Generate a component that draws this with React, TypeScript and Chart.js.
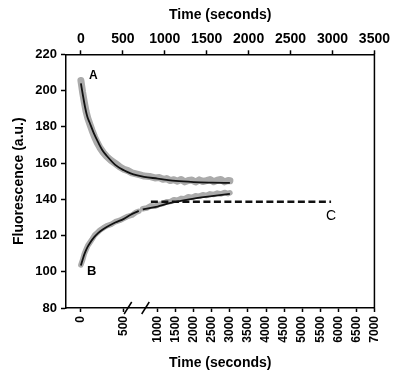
import React, { useEffect, useRef } from 'react';
import { Chart, registerables, LinearScale } from 'chart.js';

Chart.register(...registerables);

const FONT = '"Liberation Sans", Arial, Helvetica, sans-serif';

// ---- tick labels ----
const TOP_TICKS = [0, 500, 1000, 1500, 2000, 2500, 3000, 3500];
const BOTTOM_TICKS = [0, 500, 1000, 1500, 2000, 2500, 3000, 3500, 4000, 4500, 5000, 5500, 6000, 6500, 7000];
const Y_TICKS = [80, 100, 120, 140, 160, 180, 200, 220];

// ---- curve A: fitted line (time s, fluorescence) ----
const A_FIT_T = [0, 25, 50, 75, 100, 150, 200, 250, 300, 400, 500, 600, 700, 800, 1000, 1250, 1500, 2000, 2500, 3000];
const A_FIT_V = [204, 197, 190.5, 185.5, 182.5, 176.5, 171.5, 167, 164, 159, 156, 154.3, 153.2, 152.4, 151.4, 150.7, 150.1, 149.5, 149.2, 149];

// ---- curve A: measured (grey) ----
const A_MEAS_T = [0, 20, 40, 60, 80, 100, 130, 160, 190, 220, 260, 300, 350, 400, 450, 500, 560, 620, 680, 740, 800, 880, 960, 1050, 1150, 1250, 1350, 1450, 1550, 1650, 1750, 1850, 1950, 2050, 2150, 2250, 2350, 2450, 2550, 2650, 2750, 2850, 2950, 3000];
const A_MEAS_V = [205.5, 199, 193.5, 188.5, 184.8, 182.0, 178.0, 174.3, 171.2, 168.6, 165.8, 163.6, 161.5, 159.8, 158.0, 156.6, 155.8, 154.6, 154.0, 153.4, 152.8, 152.6, 151.8, 152.0, 151.0, 151.4, 150.3, 150.8, 150.0, 150.9, 149.6, 150.4, 150.6, 149.5, 150.7, 149.8, 150.3, 150.9, 149.7, 150.5, 150.9, 149.6, 150.4, 150.2];

// ---- curve B: fitted line ----
const B_FIT_T = [0, 25, 50, 75, 100, 150, 200, 250, 300, 400, 500, 600, 700, 720, 735, 780, 800, 1000, 1250, 1500, 2000, 2500, 3000];
const B_FIT_V = [103.5, 107.5, 110.8, 113.5, 115.5, 118.8, 121.3, 123.2, 124.7, 127.2, 129.2, 131.5, 133.2, 133.6, null, 134.4, 134.6, 136.0, 137.4, 138.5, 140.3, 141.7, 143.0];

// ---- curve B: measured (grey) ----
const B_MEAS_T = [0, 20, 40, 60, 80, 100, 130, 160, 190, 220, 260, 300, 350, 400, 450, 500, 560, 620, 680, 720, 735, 780, 840, 900, 960, 1050, 1150, 1250, 1350, 1450, 1550, 1650, 1750, 1850, 1950, 2050, 2150, 2250, 2350, 2450, 2550, 2650, 2750, 2850, 2950, 3000];
const B_MEAS_V = [103.8, 106.5, 109.9, 112.2, 114.4, 115.8, 117.9, 120.2, 121.5, 122.9, 124.2, 125.3, 126.1, 127.6, 128.3, 129.5, 130.6, 131.2, 132.8, 133.4, null, 134.8, 135.2, 136.4, 136.1, 137.3, 137.6, 138.6, 138.7, 139.8, 139.5, 140.5, 140.3, 141.4, 141.0, 142.0, 141.6, 142.5, 142.1, 143.0, 142.6, 143.4, 142.9, 143.8, 143.1, 143.6];

// ---- line C: dashed plateau ----
const C_T = [900, 5800];
const C_V = [138.7, 138.7];

// ---- curve labels (data coordinates) ----
const LABEL_TEXT = ['A', 'B', 'C'];
const LABEL_T = [144, 127, 5800];
const LABEL_V = [208.3, 100, 130.8];

// broken bottom axis: value breakpoints and their position along the axis (fraction of width)
const BREAK_VALUES = [0, 500, 1000, 7000];
const BREAK_FRACS = [0.0483, 0.1876, 0.2971, 1];

function valueToFrac(v: number): number {
  const n = BREAK_VALUES.length;
  let i = 0;
  if (v >= BREAK_VALUES[n - 1]) i = n - 2;
  else if (v > BREAK_VALUES[0]) {
    while (v > BREAK_VALUES[i + 1]) i++;
  }
  const v0 = BREAK_VALUES[i], v1 = BREAK_VALUES[i + 1];
  const f0 = BREAK_FRACS[i], f1 = BREAK_FRACS[i + 1];
  return f0 + ((v - v0) / (v1 - v0)) * (f1 - f0);
}
function fracToValue(f: number): number {
  const n = BREAK_FRACS.length;
  let i = 0;
  if (f >= BREAK_FRACS[n - 1]) i = n - 2;
  else if (f > BREAK_FRACS[0]) {
    while (f > BREAK_FRACS[i + 1]) i++;
  }
  const v0 = BREAK_VALUES[i], v1 = BREAK_VALUES[i + 1];
  const f0 = BREAK_FRACS[i], f1 = BREAK_FRACS[i + 1];
  return v0 + ((f - f0) / (f1 - f0)) * (v1 - v0);
}

class BrokenLinearScale extends LinearScale {
  static id = 'brokenLinear';
  static defaults = LinearScale.defaults;
  getPixelForValue(value: any) {
    if (value === null || value === undefined || isNaN(value)) return NaN;
    return (this as any).getPixelForDecimal(valueToFrac(+value));
  }
  getValueForPixel(pixel: number) {
    return fracToValue((this as any).getDecimalForPixel(pixel));
  }
}
Chart.register(BrokenLinearScale as any);

const pts = (t: number[], v: (number | null)[]) => t.map((x, i) => ({ x, y: v[i] }));

const decorPlugin = {
  id: 'decor',
  afterDraw(chart: any) {
    const { ctx, chartArea, scales } = chart;
    ctx.save();
    ctx.strokeStyle = '#000';
    ctx.lineWidth = 1.5;
    // right frame
    ctx.beginPath();
    ctx.moveTo(chartArea.right, chartArea.top - 0.75);
    ctx.lineTo(chartArea.right, chartArea.bottom + 0.75);
    ctx.stroke();
    // axis break marks
    const xs = scales.x;
    const p0 = xs.getPixelForValue(500);
    const p1 = xs.getPixelForValue(1000);
    const yb = chartArea.bottom;
    for (const f of [0.12, 0.64]) {
      const cx = p0 + (p1 - p0) * f;
      ctx.beginPath();
      ctx.moveTo(cx - 3.8, yb + 6);
      ctx.lineTo(cx + 3.8, yb - 6);
      ctx.stroke();
    }
    // curve labels
    ctx.fillStyle = '#000';
    ctx.textAlign = 'center';
    ctx.textBaseline = 'middle';
    LABEL_TEXT.forEach((txt, i) => {
      const px = xs.getPixelForValue(LABEL_T[i]);
      const py = scales.y.getPixelForValue(LABEL_V[i]);
      ctx.font = txt === 'C' ? `14px ${FONT}` : `bold ${txt === 'A' ? 12 : 13}px ${FONT}`;
      ctx.fillText(txt, px, py);
    });
    ctx.restore();
  },
};

export default function App() {
  const ref = useRef<HTMLCanvasElement>(null);
  useEffect(() => {
    if (!ref.current) return;
    const grid = {
      display: true,
      drawOnChartArea: false,
      drawTicks: true,
      tickLength: 4,
      tickWidth: 1.5,
      tickColor: '#000',
      color: '#000',
    };
    const border = { display: true, color: '#000', width: 1.5 };
    const titleFont = { family: FONT, size: 14, weight: 'bold' as const };
    const chart = new Chart(ref.current, {
      type: 'line',
      data: {
        datasets: [
          {
            data: pts(A_FIT_T, A_FIT_V),
            borderColor: '#111',
            borderWidth: 1.8,
            pointRadius: 0,
            cubicInterpolationMode: 'monotone',
            spanGaps: false,
            xAxisID: 'x',
            yAxisID: 'y',
          },
          {
            data: pts(B_FIT_T, B_FIT_V),
            borderColor: '#111',
            borderWidth: 1.8,
            pointRadius: 0,
            cubicInterpolationMode: 'monotone',
            spanGaps: false,
            xAxisID: 'x',
            yAxisID: 'y',
          },
          {
            data: pts(C_T, C_V),
            borderColor: '#111',
            borderWidth: 2.5,
            borderDash: [7, 3.5],
            pointRadius: 0,
            xAxisID: 'x',
            yAxisID: 'y',
          },
          {
            data: pts(A_MEAS_T, A_MEAS_V),
            borderColor: '#ababab',
            borderWidth: 7,
            pointRadius: 0,
            tension: 0,
            borderJoinStyle: 'round',
            borderCapStyle: 'round',
            spanGaps: false,
            xAxisID: 'x',
            yAxisID: 'y',
          },
          {
            data: pts(B_MEAS_T, B_MEAS_V),
            borderColor: '#ababab',
            borderWidth: 5.5,
            pointRadius: 0,
            tension: 0,
            borderJoinStyle: 'round',
            borderCapStyle: 'round',
            spanGaps: false,
            xAxisID: 'x',
            yAxisID: 'y',
          },
        ] as any,
      },
      options: {
        responsive: false,
        animation: false,
        devicePixelRatio: 1,
        events: [],
        layout: { padding: { left: 0, top: 0, right: 16.3, bottom: 0 } },
        plugins: { legend: { display: false }, tooltip: { enabled: false } },
        scales: {
          x: {
            type: 'brokenLinear' as any,
            position: 'bottom',
            min: -173.4,
            max: 7000,
            afterBuildTicks: (s: any) => {
              s.ticks = BOTTOM_TICKS.map((v) => ({ value: v }));
            },
            afterFit: (s: any) => {
              s.height = 68;
            },
            ticks: {
              minRotation: 90,
              maxRotation: 90,
              autoSkip: false,
              padding: 4,
              color: '#000',
              font: { family: FONT, size: 12, weight: 'bold' },
              callback: (v: any) => String(v),
            },
            grid,
            border,
            title: {
              display: true,
              text: 'Time (seconds)',
              color: '#000',
              font: titleFont,
              padding: { top: 0, bottom: 4.3 },
            },
          } as any,
          xTop: {
            type: 'linear',
            position: 'top',
            min: -177.5,
            max: 3500,
            afterBuildTicks: (s: any) => {
              s.ticks = TOP_TICKS.map((v) => ({ value: v }));
            },
            afterFit: (s: any) => {
              s.height = 54.3;
            },
            ticks: {
              maxRotation: 0,
              autoSkip: false,
              padding: 3,
              color: '#000',
              font: { family: FONT, size: 14, weight: 'bold' },
              callback: (v: any) => String(v),
            },
            grid,
            border,
            title: {
              display: true,
              text: 'Time (seconds)',
              color: '#000',
              font: titleFont,
              padding: { top: 6.6, bottom: 0 },
            },
          } as any,
          y: {
            type: 'linear',
            position: 'left',
            min: 80,
            max: 220,
            afterBuildTicks: (s: any) => {
              s.ticks = Y_TICKS.map((v) => ({ value: v }));
            },
            afterFit: (s: any) => {
              s.width = 66;
            },
            ticks: {
              padding: 4,
              color: '#000',
              font: { family: FONT, size: 13, weight: 'bold' },
              callback: (v: any) => String(v),
            },
            grid: { ...grid, tickLength: 5 },
            border,
            title: {
              display: true,
              text: 'Fluorescence (a.u.)',
              color: '#000',
              font: titleFont,
              padding: { top: 10.6, bottom: 0 },
            },
          } as any,
        },
      },
      plugins: [decorPlugin],
    });
    return () => chart.destroy();
  }, []);
  return (
    <div style={{ position: 'absolute', left: 0, top: 0, width: 393, height: 376, background: '#fff' }}>
      <canvas ref={ref} width={393} height={376} style={{ display: 'block', width: 393, height: 376 }} />
    </div>
  );
}
